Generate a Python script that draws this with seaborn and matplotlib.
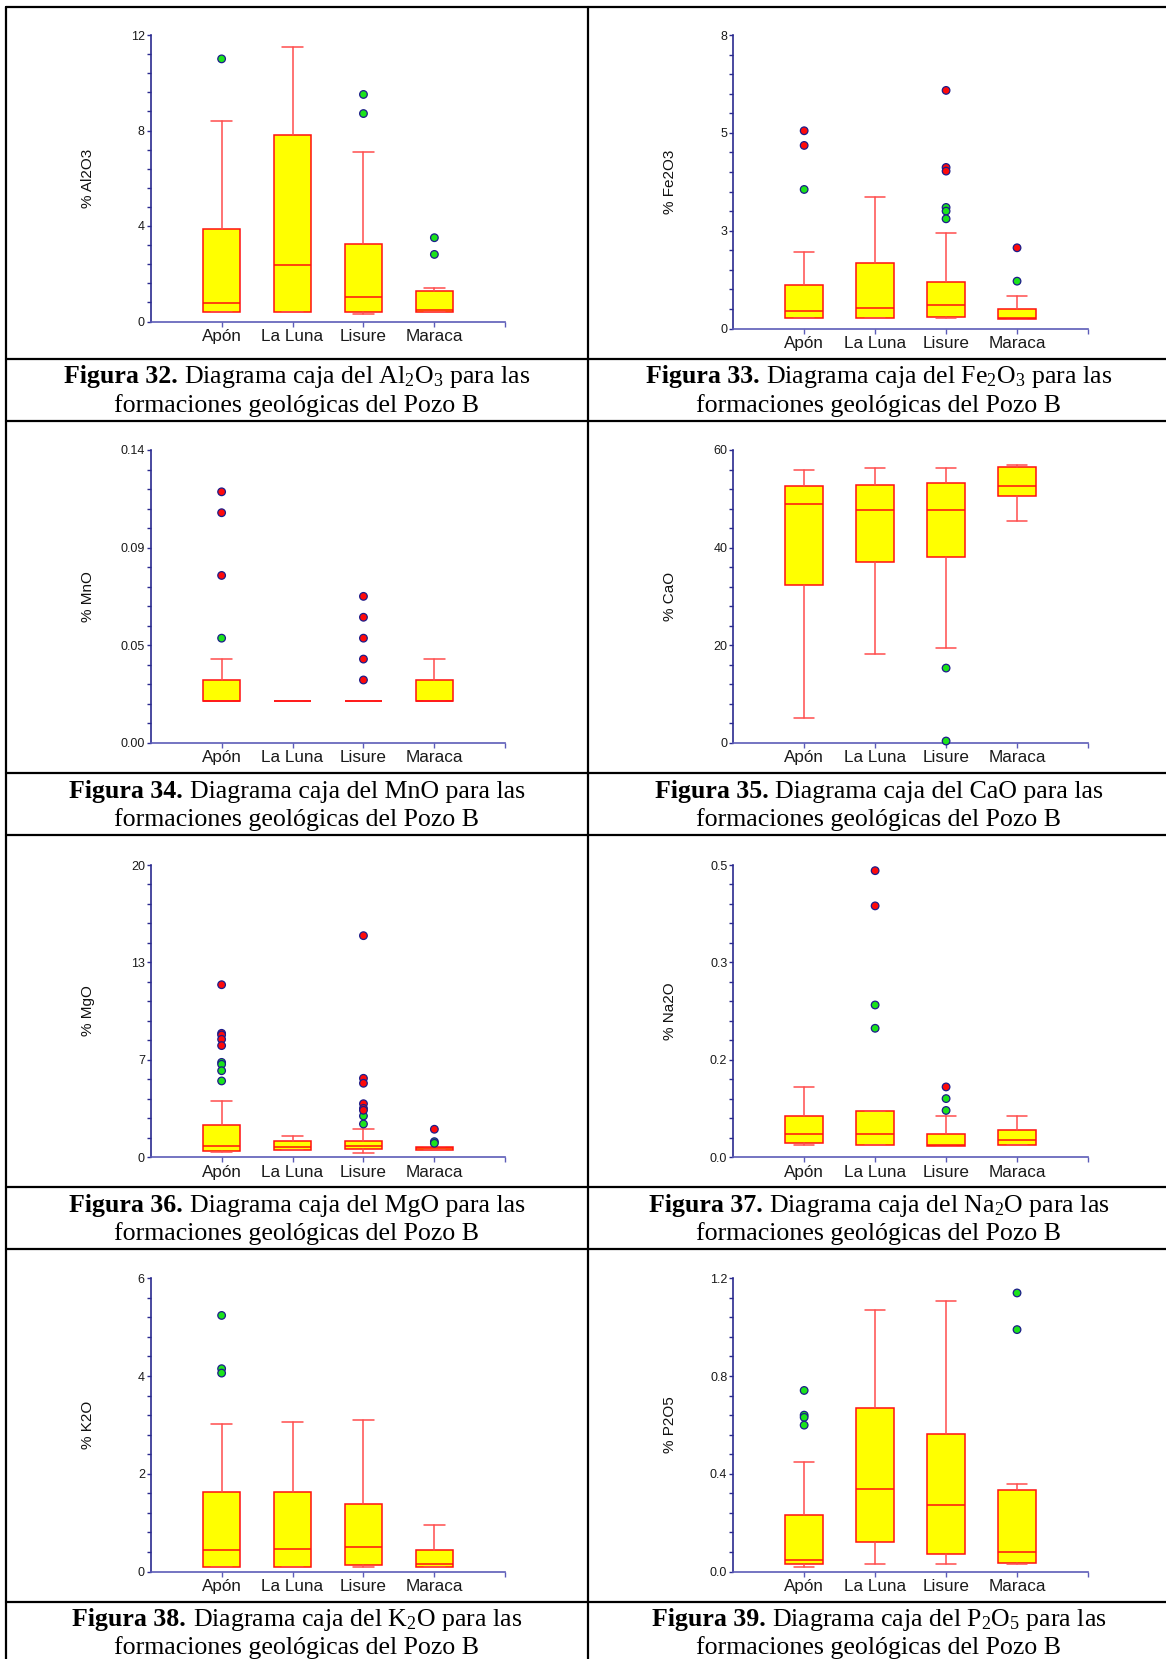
import numpy as np
import pandas as pd
import matplotlib
matplotlib.use("Agg")
import matplotlib.pyplot as plt
from matplotlib.lines import Line2D
import seaborn as sns

# ---------------- data ----------------
FORMATIONS = ["Apón", "La Luna", "Lisure", "Maraca"]

# each row: [lower whisker, Q1, median, Q3, upper whisker] for Apón, La Luna, Lisure, Maraca
AL2O3_BOX = [[0.39, 0.39, 0.78, 3.89, 8.41], [0.39, 0.39, 2.38, 7.80, 11.51],
             [0.31, 0.39, 1.03, 3.24, 7.10], [0.39, 0.39, 0.48, 1.27, 1.41]]
AL2O3_MILD = [[11.0], [], [9.51, 8.71], [3.51, 2.81]]
AL2O3_FAR = [[], [], [], []]
AL2O3_TICKS = ["0", "4", "8", "12"]

FE2O3_BOX = [[0.29, 0.29, 0.47, 1.19, 2.09], [0.29, 0.29, 0.57, 1.79, 3.59],
             [0.29, 0.32, 0.63, 1.28, 2.59], [0.27, 0.27, 0.29, 0.54, 0.89]]
FE2O3_MILD = [[3.79], [], [3.30, 3.20, 2.99], [1.29]]
FE2O3_FAR = [[5.39, 4.99], [], [6.49, 4.39, 4.29], [2.20]]
FE2O3_TICKS = ["0", "3", "5", "8"]

MNO_BOX = [[0.020, 0.020, 0.020, 0.030, 0.040], [0.020, 0.020, 0.020, 0.020, 0.020],
           [0.020, 0.020, 0.020, 0.020, 0.020], [0.020, 0.020, 0.020, 0.030, 0.040]]
MNO_MILD = [[0.050], [], [], []]
MNO_FAR = [[0.120, 0.110, 0.080], [], [0.070, 0.060, 0.050, 0.040, 0.030], []]
MNO_TICKS = ["0.00", "0.05", "0.09", "0.14"]

CAO_BOX = [[5.06, 32.3, 49.0, 52.7, 55.8], [18.2, 37.1, 47.8, 52.8, 56.3],
           [19.5, 38.0, 47.6, 53.2, 56.4], [45.5, 50.5, 52.7, 56.5, 57.0]]
CAO_MILD = [[], [], [15.3, 0.34], []]
CAO_FAR = [[], [], [], []]
CAO_TICKS = ["0", "20", "40", "60"]

MGO_BOX = [[0.35, 0.43, 0.75, 2.19, 3.86], [0.45, 0.48, 0.66, 1.12, 1.42],
           [0.25, 0.53, 0.75, 1.12, 1.90], [0.48, 0.48, 0.59, 0.68, 0.68]]
MGO_MILD = [[6.48, 6.35, 5.91, 5.21], [], [2.81, 2.26], [1.05, 0.94]]
MGO_FAR = [[11.80, 8.47, 8.36, 8.06, 7.63], [], [15.16, 5.39, 5.05, 3.65, 3.33, 3.20], [1.90]]
MGO_TICKS = ["0", "7", "13", "20"]

NA2O_BOX = [[0.0199, 0.0245, 0.0387, 0.0695, 0.120], [0.0199, 0.0199, 0.0387, 0.0792, 0.0792],
            [0.0182, 0.0182, 0.0199, 0.0399, 0.0695], [0.0199, 0.0199, 0.0285, 0.0467, 0.0695]]
NA2O_MILD = [[], [0.2603, 0.2204], [0.100, 0.0797], []]
NA2O_FAR = [[], [0.4903, 0.4300], [0.120], []]
NA2O_TICKS = ["0.0", "0.2", "0.3", "0.5"]

K2O_BOX = [[0.096, 0.096, 0.45, 1.631, 3.017], [0.096, 0.096, 0.457, 1.625, 3.058],
           [0.096, 0.123, 0.498, 1.372, 3.106], [0.096, 0.096, 0.157, 0.444, 0.956]]
K2O_MILD = [[5.24, 4.15, 4.06], [], [], []]
K2O_FAR = [[], [], [], []]
K2O_TICKS = ["0", "2", "4", "6"]

P2O5_BOX = [[0.019, 0.029, 0.046, 0.233, 0.449], [0.029, 0.120, 0.336, 0.669, 1.070],
            [0.029, 0.070, 0.273, 0.561, 1.109], [0.029, 0.034, 0.078, 0.334, 0.359]]
P2O5_MILD = [[0.741, 0.640, 0.631, 0.599], [], [], [1.140, 0.990]]
P2O5_FAR = [[], [], [], []]
P2O5_TICKS = ["0.0", "0.4", "0.8", "1.2"]

YLABELS = ["% Al2O3", "% Fe2O3", "% MnO", "% CaO", "% MgO", "% Na2O", "% K2O", "% P2O5"]
YMAX = [12, 8, 0.14, 60, 20, 0.5, 6, 1.2]
FIG_LABELS = ["Figura 32.", "Figura 33.", "Figura 34.", "Figura 35.",
              "Figura 36.", "Figura 37.", "Figura 38.", "Figura 39."]
OXIDES_MATH = ["Al$_2$O$_3$", "Fe$_2$O$_3$", "MnO", "CaO", "MgO", "Na$_2$O", "K$_2$O", "P$_2$O$_5$"]

BOXES = [AL2O3_BOX, FE2O3_BOX, MNO_BOX, CAO_BOX, MGO_BOX, NA2O_BOX, K2O_BOX, P2O5_BOX]
MILDS = [AL2O3_MILD, FE2O3_MILD, MNO_MILD, CAO_MILD, MGO_MILD, NA2O_MILD, K2O_MILD, P2O5_MILD]
FARS = [AL2O3_FAR, FE2O3_FAR, MNO_FAR, CAO_FAR, MGO_FAR, NA2O_FAR, K2O_FAR, P2O5_FAR]
TICKS = [AL2O3_TICKS, FE2O3_TICKS, MNO_TICKS, CAO_TICKS, MGO_TICKS, NA2O_TICKS, K2O_TICKS, P2O5_TICKS]

# ---------------- style ----------------
sns.set_theme(style="ticks")
plt.rcParams["font.family"] = ["Liberation Sans", "DejaVu Sans"]
plt.rcParams["mathtext.fontset"] = "custom"
plt.rcParams["mathtext.rm"] = "Liberation Serif"
plt.rcParams["mathtext.it"] = "Liberation Serif:italic"
plt.rcParams["mathtext.bf"] = "Liberation Serif:bold"

W, H = 1166, 1659
fig = plt.figure(figsize=(W / 100, H / 100), dpi=100)
fig.patch.set_facecolor("white")

COL_X = [(150.7, 505.3), (733.2, 1088.0)]
ROW_Y = [[(35, 321.5), (35, 328.5)], [(450, 742.7), (450, 742.7)],
         [(865, 1157), (865, 1157)], [(1278.3, 1571.5), (1278.3, 1571.5)]]
CAPTION_TOPS = [359.0, 773.2, 1187.4, 1601.7]
CAPTION_BOTTOMS = [420.7, 834.9, 1249.1]
CAPTION_CX = [297, 879]

LEFT_C = "#2a2a8f"
BOT_C = "#5c5cb8"

for k in range(8):
    r, c = divmod(k, 2)
    x0, x1 = COL_X[c]
    yt, yb = ROW_Y[r][c]
    ax = fig.add_axes([x0 / W, 1 - yb / H, (x1 - x0) / W, (yb - yt) / H])
    ax.patch.set_alpha(0)

    stats = [dict(whislo=b[0], q1=b[1], med=b[2], q3=b[3], whishi=b[4], label=f)
             for b, f in zip(BOXES[k], FORMATIONS)]
    ax.bxp(stats, positions=range(4), widths=0.53, capwidths=0.29,
           patch_artist=True, showfliers=False, manage_ticks=False,
           boxprops=dict(facecolor="#ffff00", edgecolor="#ff1010", linewidth=1.1),
           medianprops=dict(color="#ff1010", linewidth=1.1),
           whiskerprops=dict(color="#ff4d4d", linewidth=1.1),
           capprops=dict(color="#ff4d4d", linewidth=1.1))

    rows = []
    for i, (m, f) in enumerate(zip(MILDS[k], FARS[k])):
        rows += [(i, v, "mild") for v in m]
        rows += [(i, v, "far") for v in f]
    df = pd.DataFrame(rows, columns=["pos", "value", "kind"])
    if len(df):
        sns.scatterplot(data=df, x="pos", y="value", hue="kind",
                        palette={"mild": "#1be31b", "far": "#ff0a0a"},
                        edgecolor="#1c1c8a", linewidth=0.9, s=30,
                        legend=False, ax=ax, zorder=5, clip_on=False)

    ymax = YMAX[k]
    ax.set_xlim(-1, 4)
    ax.set_ylim(0, ymax)
    ax.set_xticks([0, 1, 2, 3, 4])
    ax.set_xticklabels(FORMATIONS + [""])
    ax.set_yticks(np.linspace(0, ymax, 4))
    ax.set_yticklabels(TICKS[k])
    ax.set_yticks(np.linspace(0, ymax, 16), minor=True)
    ax.set_xlabel("")
    for s in ["top", "right"]:
        ax.spines[s].set_visible(False)
    ax.spines["left"].set_color(LEFT_C)
    ax.spines["left"].set_linewidth(1.2)
    ax.spines["bottom"].set_color(BOT_C)
    ax.spines["bottom"].set_linewidth(1.2)
    ax.tick_params(axis="y", which="both", left=True, direction="out", length=3.2,
                   width=1.0, color=LEFT_C, labelsize=9, pad=1, labelcolor="#1a1a1a")
    ax.tick_params(axis="x", which="both", bottom=True, direction="out", length=3.5,
                   width=1.0, color=BOT_C, labelsize=12.3, pad=2, labelcolor="#1a1a1a")
    ax.set_ylabel(YLABELS[k], fontsize=11, color="#111111")
    ax.yaxis.label.set_verticalalignment("center")
    ax.yaxis.set_label_coords(-0.178, 0.5)

# ---------------- table frame ----------------
def fy(y):
    return 1 - y / H

def fx(x):
    return x / W

lw = 1.6
fig.add_artist(Line2D([fx(5.7), 1], [fy(6.7), fy(6.7)], color="black", lw=lw))
for y in CAPTION_TOPS + CAPTION_BOTTOMS:
    fig.add_artist(Line2D([fx(5.7), 1], [fy(y), fy(y)], color="black", lw=lw))
for x in [5.7, 587.7]:
    fig.add_artist(Line2D([fx(x), fx(x)], [fy(6.7), 0], color="black", lw=lw))

# ---------------- captions ----------------
CAP_FS = 18.6
renderer = fig.canvas.get_renderer()
space_px = 0.25 * CAP_FS * 100 / 72
for k in range(8):
    r, c = divmod(k, 2)
    top = CAPTION_TOPS[r]
    cx = CAPTION_CX[c]
    rest = "Diagrama caja del " + OXIDES_MATH[k] + " para las"
    t1 = fig.text(0, fy(top + 24.3), FIG_LABELS[k], ha="left", va="baseline",
                  fontsize=CAP_FS, fontweight="bold", family=["Liberation Serif"], color="black")
    t2 = fig.text(0, fy(top + 24.3), rest, ha="left", va="baseline",
                  fontsize=CAP_FS, family=["Liberation Serif"], color="black")
    w1 = t1.get_window_extent(renderer).width
    w2 = t2.get_window_extent(renderer).width
    left = cx - (w1 + space_px + w2) / 2
    t1.set_x(fx(left))
    t2.set_x(fx(left + w1 + space_px))
    fig.text(fx(cx), fy(top + 52.7), "formaciones geológicas del Pozo B", ha="center",
             va="baseline", fontsize=CAP_FS, family=["Liberation Serif"], color="black")

fig.savefig("out.png", dpi=100)
